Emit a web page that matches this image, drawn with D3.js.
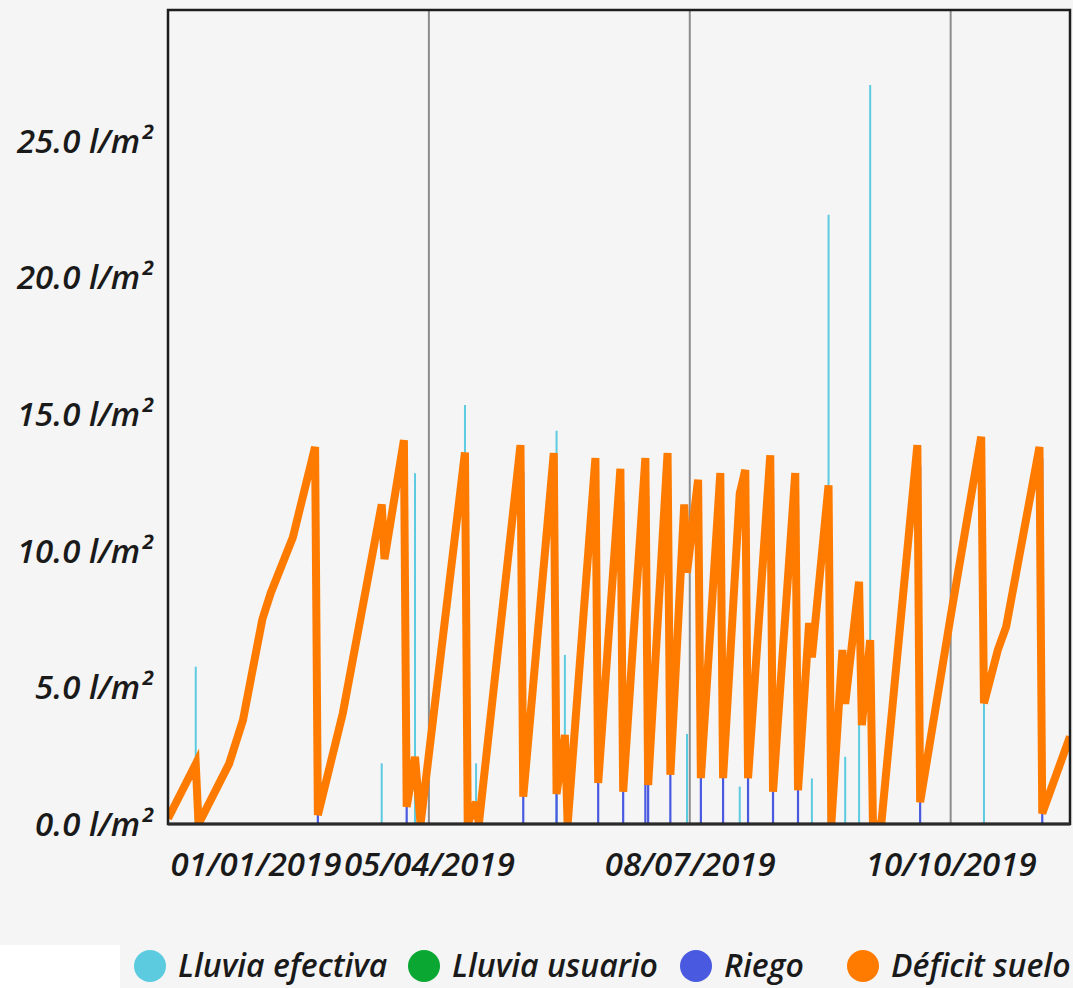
<!DOCTYPE html>
<html><head><meta charset="utf-8">
<script src="https://cdn.jsdelivr.net/npm/d3@7"></script>
<style>
html,body{margin:0;padding:0;background:#f5f5f5;}
svg{display:block;}
text{font-family:"Open Sans",sans-serif;font-style:italic;fill:#1a1a1a;}
</style></head>
<body>
<div id="chart"></div>
<script>
// ---- data ----
const deficitDates = ["2019-01-01","2019-01-11","2019-01-12","2019-01-23","2019-01-28","2019-02-04","2019-02-07","2019-02-15","2019-02-23","2019-02-24",
  "2019-03-05","2019-03-19","2019-03-20","2019-03-27","2019-03-28","2019-03-31","2019-04-02","2019-04-18","2019-04-19","2019-04-22",
  "2019-04-23","2019-05-08","2019-05-09","2019-05-20","2019-05-21","2019-05-24","2019-05-25","2019-06-04","2019-06-05","2019-06-13",
  "2019-06-14","2019-06-22","2019-06-23","2019-06-30","2019-07-01","2019-07-06","2019-07-07","2019-07-11","2019-07-12","2019-07-19",
  "2019-07-20","2019-07-26","2019-07-28","2019-07-29","2019-08-06","2019-08-07","2019-08-15","2019-08-16","2019-08-20","2019-08-21",
  "2019-08-27","2019-08-28","2019-09-01","2019-09-02","2019-09-07","2019-09-08","2019-09-11","2019-09-12","2019-09-15","2019-09-28",
  "2019-09-29","2019-10-10","2019-10-21","2019-10-22","2019-10-27","2019-10-30","2019-11-11","2019-11-12","2019-11-22"];
const deficitValues = [0.2,2.2,0.0,2.2,3.8,7.5,8.45,10.5,13.8,0.33,
  4.06,11.7,9.7,14.05,0.63,2.46,0.0,13.6,0.0,0.8,
  0.0,13.87,1.0,13.58,1.1,3.26,0.0,13.4,1.5,13.0,
  1.18,13.4,1.43,13.58,1.8,11.7,9.2,12.6,1.68,12.85,
  1.68,12.1,12.96,1.68,13.5,1.18,12.85,1.24,7.36,6.1,
  12.4,0.0,6.37,4.4,8.87,3.62,6.73,0.0,0.0,13.87,
  0.8,7.6,14.18,4.42,6.37,7.22,13.8,0.39,3.2];

const lluviaDates = ["2019-01-11","2019-03-19","2019-03-31","2019-04-18","2019-04-22","2019-05-21","2019-05-24","2019-07-07",
  "2019-07-26","2019-08-21","2019-08-27","2019-09-02","2019-09-07","2019-09-11","2019-09-12","2019-10-22"];
const lluviaValues = [5.76,2.22,12.84,15.34,2.22,14.4,6.19,3.3,1.37,1.67,22.3,2.46,5.3,27.05,6.55,9.8];

const usuarioDates = [];
const usuarioValues = [];

const riegoDates = ["2019-02-24","2019-03-28","2019-05-09","2019-05-21","2019-06-05","2019-06-14","2019-06-22","2019-06-23",
  "2019-07-01","2019-07-12","2019-07-20","2019-07-29","2019-08-07","2019-08-16","2019-09-29","2019-11-12"];
const riegoValues = [13.5,13.4,12.9,12.5,11.9,11.8,6.0,12.0,11.8,10.9,11.2,11.3,12.3,11.6,13.1,13.4];

const xTickDates = ["2019-01-01","2019-04-05","2019-07-08","2019-10-10"];
const yTickValues = [0,5,10,15,20,25];
const legendLabels = ["Lluvia efectiva","Lluvia usuario","Riego","Déficit suelo"];
const colors = ["#5ccbe0","#0aa832","#4a5ae0","#ff7b00"];

(function () {
const W = 1073, H = 988;
const parse = d3.utcParse("%Y-%m-%d");
const fmt = d3.utcFormat("%d/%m/%Y");
const pL = 168, pR = 1070, pT = 10, pB = 824;

const svg = d3.select("#chart").append("svg").attr("width", W).attr("height", H);
svg.append("rect").attr("width", W).attr("height", H).attr("fill", "#f5f5f5");
svg.append("rect").attr("x", 0).attr("y", 945).attr("width", 120).attr("height", 43).attr("fill", "#ffffff");

const x = d3.scaleUtc().domain([parse("2019-01-01"), parse("2019-11-22")]).range([pL, pR]);
const y = d3.scaleLinear().domain([0, 29.8]).range([pB, pT]);

svg.append("defs").append("clipPath").attr("id", "clip")
  .append("rect").attr("x", pL).attr("y", pT).attr("width", pR - pL).attr("height", pB - pT);

const g = svg.append("g").attr("clip-path", "url(#clip)");
g.selectAll("line.grid").data(xTickDates.slice(1)).enter().append("line")
  .attr("class", "grid")
  .attr("x1", d => x(parse(d))).attr("x2", d => x(parse(d)))
  .attr("y1", pT).attr("y2", pB)
  .attr("stroke", "#8c8c8c").attr("stroke-width", 2);

function bars(dates, values, color, w) {
  g.append("g").selectAll("line").data(dates.map((d, i) => ({d: parse(d), v: values[i]}))).enter().append("line")
    .attr("x1", d => x(d.d)).attr("x2", d => x(d.d))
    .attr("y1", y(0)).attr("y2", d => y(d.v))
    .attr("stroke", color).attr("stroke-width", w);
}
bars(lluviaDates, lluviaValues, colors[0], 2);
bars(usuarioDates, usuarioValues, colors[1], 2);
bars(riegoDates, riegoValues, colors[2], 2.2);

const line = d3.line().x(d => x(d.d)).y(d => y(d.v));
g.append("path")
  .datum(deficitDates.map((d, i) => ({d: parse(d), v: deficitValues[i]})))
  .attr("d", line).attr("fill", "none")
  .attr("stroke", colors[3]).attr("stroke-width", 8);

svg.append("rect").attr("x", pL).attr("y", pT).attr("width", pR - pL).attr("height", pB - pT)
  .attr("fill", "none").attr("stroke", "#1e1e1e").attr("stroke-width", 2.5);
svg.append("line").attr("x1", pL).attr("x2", pR).attr("y1", pB).attr("y2", pB)
  .attr("stroke", "#2a2a2a").attr("stroke-width", 3);

const yAxis = svg.append("g").attr("transform", `translate(${152},0)`)
  .call(d3.axisLeft(y).tickValues(yTickValues).tickSize(0).tickPadding(0)
    .tickFormat(d => d3.format(".1f")(d) + " l/m²"));
yAxis.select(".domain").remove();
yAxis.selectAll("text").attr("font-size", 33).attr("font-weight", 600).attr("font-family", "Open Sans").attr("font-style", "italic").attr("fill", "#1a1a1a").attr("dy", "0.34em");

const xAxis = svg.append("g").attr("transform", `translate(0,${pB})`)
  .call(d3.axisBottom(x).tickValues(xTickDates.map(parse)).tickSize(0).tickPadding(0).tickFormat(fmt));
xAxis.select(".domain").remove();
xAxis.selectAll("text").attr("font-size", 33).attr("font-weight", 600).attr("font-family", "Open Sans").attr("font-style", "italic").attr("fill", "#1a1a1a")
  .attr("dy", null).attr("y", 52);
xAxis.selectAll(".tick").filter((d, i) => i === 0).select("text").attr("text-anchor", "start").attr("x", 2);

const legendX = [150, 424, 696, 863];
const leg = svg.append("g");
legendLabels.forEach((lab, i) => {
  leg.append("circle").attr("cx", legendX[i]).attr("cy", 966).attr("r", 16).attr("fill", colors[i]);
  leg.append("text").attr("x", legendX[i] + 28).attr("y", 977).attr("font-size", 32).attr("font-weight", 600).text(lab);
});
})();
</script>
</body></html>
